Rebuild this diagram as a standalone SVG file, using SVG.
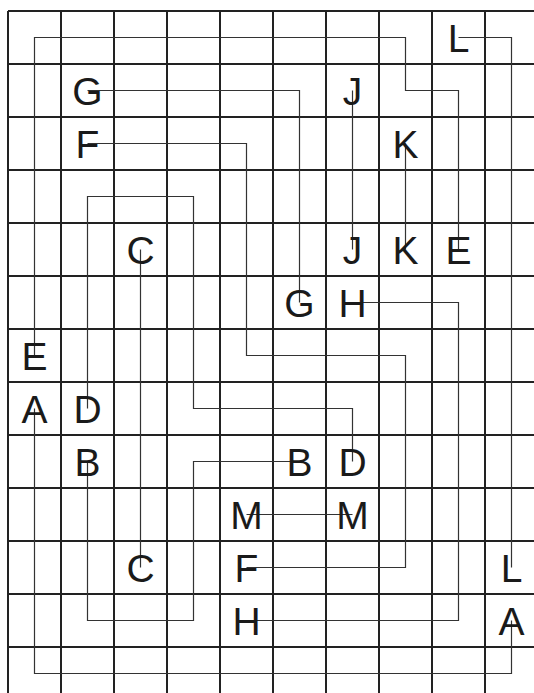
<svg xmlns="http://www.w3.org/2000/svg" width="534" height="693" viewBox="0 0 534 693">
<style>
.g{stroke:#222;stroke-width:2;fill:none}
.c{stroke:#333;stroke-width:1.2;fill:none}
.t{font-family:"Liberation Sans",Arial,sans-serif;font-size:39px;fill:#1a1a1a;text-anchor:middle}
</style>
<rect width="534" height="693" fill="#fff"/>
<g id="grid" class="g">
<path d="M8,11V693M61,11V693M114,11V693M167,11V693M220,11V693M273,11V693M326,11V693M379,11V693M432,11V693M485,11V693"/>
<path d="M8,11H534M8,64H534M8,117H534M8,170H534M8,223H534M8,276H534M8,329H534M8,382H534M8,435H534M8,488H534M8,541H534M8,594H534M8,647H534"/>
</g>
<g id="connectors" class="c">
<path id="path-L" d="M458.5,37.5H511.5V567.5"/>
<path id="path-E" d="M34.5,355.5V37.5H405.5V90.5H458.5V249.5"/>
<path id="path-G" d="M87.5,90.5H299.5V302.5"/>
<path id="path-J" d="M352.5,90.5V249.5"/>
<path id="path-F" d="M87.5,143.5H246.5V355.5H405.5V567.5H246.5"/>
<path id="path-K" d="M405.5,143.5V249.5"/>
<path id="path-C" d="M140.5,249.5V567.5"/>
<path id="path-D" d="M87.5,408.5V196.5H193.5V408.5H352.5V461.5"/>
<path id="path-H" d="M352.5,302.5H458.5V620.5H246.5"/>
<path id="path-A" d="M34.5,408.5V673.5H511.5V620.5"/>
<path id="path-B" d="M87.5,461.5V620.5H193.5V461.5H299.5"/>
<path id="path-M" d="M246.5,514.5H352.5"/>
</g>
<g class="t">
<g id="L1"><text x="458.5" y="52">L</text></g>
<g id="L2"><text x="511.5" y="582">L</text></g>
<g id="G1"><text x="87.5" y="105">G</text></g>
<g id="G2"><text x="299.5" y="317">G</text></g>
<g id="J1"><text x="352.5" y="105">J</text></g>
<g id="J2"><text x="352.5" y="264">J</text></g>
<g id="F1"><text x="87.5" y="158">F</text></g>
<g id="F2"><text x="246.5" y="582">F</text></g>
<g id="K1"><text x="405.5" y="158">K</text></g>
<g id="K2"><text x="405.5" y="264">K</text></g>
<g id="C1"><text x="140.5" y="264">C</text></g>
<g id="C2"><text x="140.5" y="582">C</text></g>
<g id="E1"><text x="458.5" y="264">E</text></g>
<g id="E2"><text x="34.5" y="370">E</text></g>
<g id="H1"><text x="352.5" y="317">H</text></g>
<g id="H2"><text x="246.5" y="635">H</text></g>
<g id="A1"><text x="34.5" y="423">A</text></g>
<g id="A2"><text x="511.5" y="635">A</text></g>
<g id="D1"><text x="87.5" y="423">D</text></g>
<g id="D2"><text x="352.5" y="476">D</text></g>
<g id="B1"><text x="87.5" y="476">B</text></g>
<g id="B2"><text x="299.5" y="476">B</text></g>
<g id="M1"><text x="246.5" y="529">M</text></g>
<g id="M2"><text x="352.5" y="529">M</text></g>
</g>
</svg>
